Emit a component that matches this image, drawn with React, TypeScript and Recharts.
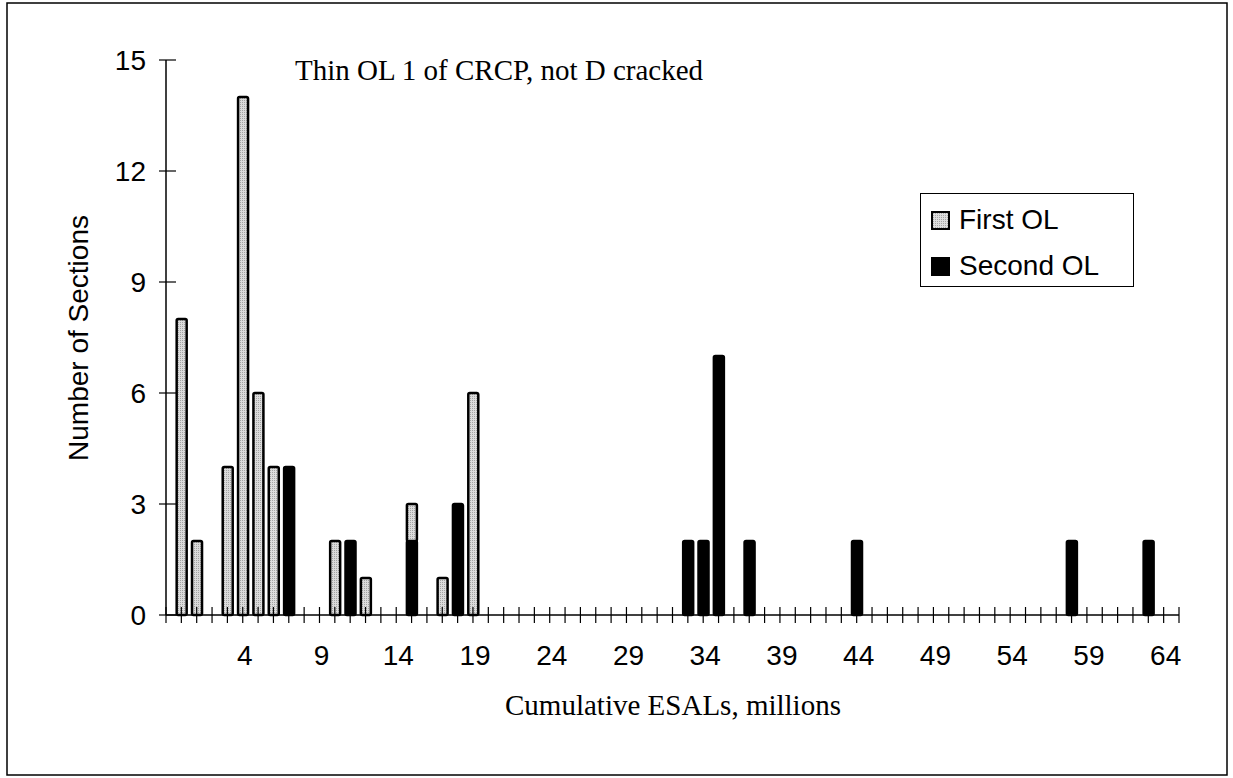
import React from 'react';
import { BarChart, Bar, XAxis, YAxis, Legend } from 'recharts';

// Cumulative ESALs (millions) at which bars occur
const esals = [0, 1, 3, 4, 5, 6, 7, 10, 11, 12, 15, 17, 18, 19, 33, 34, 35, 37, 44, 58, 63];
// Number of sections, First OL
const firstOL = [8, 2, 4, 14, 6, 4, null, 2, null, 1, 1, 1, null, 6, null, null, null, null, null, null, null];
// Number of sections, Second OL
const secondOL = [null, null, null, null, null, null, 4, null, 2, null, 2, null, 3, null, 2, 2, 7, 2, 2, 2, 2];

const xLabelTicks = [4, 9, 14, 19, 24, 29, 34, 39, 44, 49, 54, 59, 64];
const xMinorTicks = Array.from({ length: 67 }, (_, i) => i - 1);
const yTicks = [0, 3, 6, 9, 12, 15];

const seriesNames = { first: 'First OL', second: 'Second OL' };
const legendOrder = ['first', 'second'];

const data = esals.map((x, i) => {
  const row: any = { esal: x };
  if (firstOL[i] != null) row.first = firstOL[i];
  if (secondOL[i] != null) row.second = secondOL[i];
  return row;
});

const SANS = '"Liberation Sans", Arial, sans-serif';
const SERIF = '"Liberation Serif", "Times New Roman", serif';

const XTick = (props: any) => {
  const { x, y, payload } = props;
  const v = payload.value;
  return (
    <g>
      <line x1={x} x2={x} y1={y - 8} y2={y + 8} stroke="#000" strokeWidth={1.2} />
      {xLabelTicks.includes(v) && (
        <text x={x + 2} y={y + 50} textAnchor="middle" fontSize={28} fontFamily={SANS} fill="#000">
          {v}
        </text>
      )}
    </g>
  );
};

const YTick = (props: any) => {
  const { x, y, payload } = props;
  return (
    <g>
      <line x1={x - 7} x2={x + 10} y1={y} y2={y} stroke="#000" strokeWidth={1.2} />
      <text x={x - 20} y={y + 10} textAnchor="end" fontSize={28} fontFamily={SANS} fill="#000">
        {payload.value}
      </text>
    </g>
  );
};

const Swatch = ({ k }: { k: string }) => (
  <svg width={19} height={19} style={{ display: 'block' }}>
    <rect
      x={1}
      y={1}
      width={17}
      height={17}
      fill={k === 'first' ? 'url(#stipple)' : '#000'}
      stroke="#000"
      strokeWidth={2}
    />
  </svg>
);

const LegendBox = (props: any) => {
  const payload = (props.payload || []).slice();
  payload.sort((a: any, b: any) => legendOrder.indexOf(a.dataKey) - legendOrder.indexOf(b.dataKey));
  return (
    <div
      style={{
        position: 'relative',
        width: 214,
        height: 94,
        boxSizing: 'border-box',
        border: '1.5px solid #000',
        background: '#fff',
      }}
    >
      {payload.map((p: any, i: number) => (
        <div
          key={p.dataKey}
          style={{
            position: 'absolute',
            left: 10,
            top: 10 + i * 46,
            height: 32,
            display: 'flex',
            alignItems: 'center',
          }}
        >
          <Swatch k={p.dataKey} />
          <span
            style={{
              marginLeft: 9,
              fontSize: 28,
              lineHeight: '32px',
              fontFamily: SANS,
              color: '#000',
              whiteSpace: 'nowrap',
            }}
          >
            {seriesNames[p.dataKey as 'first' | 'second']}
          </span>
        </div>
      ))}
    </div>
  );
};

export default function App() {
  return (
    <div style={{ position: 'absolute', left: 0, top: 0, width: 1233, height: 778, background: '#fff' }}>
      <BarChart
        width={1233}
        height={778}
        data={data}
        margin={{ top: 60, right: 54, bottom: 63, left: 0 }}
      >
        <defs>
          <pattern id="stipple" width="2" height="2" patternUnits="userSpaceOnUse">
            <rect width="2" height="2" fill="#dcdcdc" />
            <rect width="1" height="1" fill="#a4a4a4" />
          </pattern>
        </defs>
        <XAxis
          dataKey="esal"
          type="number"
          domain={[-1, 65]}
          ticks={xMinorTicks}
          interval={0}
          allowDecimals={false}
          height={100}
          tickSize={0}
          tickMargin={0}
          tickLine={false}
          axisLine={{ stroke: '#000', strokeWidth: 1.5 }}
          tick={<XTick />}
        />
        <YAxis
          type="number"
          domain={[0, 15]}
          ticks={yTicks}
          interval={0}
          width={166}
          tickSize={0}
          tickMargin={0}
          tickLine={false}
          axisLine={{ stroke: '#000', strokeWidth: 1.5 }}
          tick={<YTick />}
        />
        <Legend
          layout="vertical"
          align="center"
          verticalAlign="middle"
          content={<LegendBox />}
          wrapperStyle={{ left: 920, top: 193, width: 214, height: 94 }}
        />
        <Bar
          dataKey="second"
          name={seriesNames.second}
          stackId="a"
          fill="#000"
          stroke="#000"
          strokeWidth={2.5}
          barSize={10}
          radius={1.5}
          isAnimationActive={false}
        />
        <Bar
          dataKey="first"
          name={seriesNames.first}
          stackId="a"
          fill="url(#stipple)"
          stroke="#000"
          strokeWidth={2.5}
          barSize={10}
          radius={1.5}
          isAnimationActive={false}
        />
      </BarChart>
      <svg
        width={1233}
        height={778}
        style={{ position: 'absolute', left: 0, top: 0, pointerEvents: 'none' }}
      >
        <rect x={7} y={3} width={1220} height={772} fill="none" stroke="#000" strokeWidth={1.5} />
        <text x={295} y={80} fontSize={29} fontFamily={SERIF} fill="#000">
          Thin OL 1 of CRCP, not D cracked
        </text>
        <text x={673} y={715} textAnchor="middle" fontSize={29} fontFamily={SERIF} fill="#000">
          Cumulative ESALs, millions
        </text>
        <text
          transform="translate(88,338) rotate(-90)"
          textAnchor="middle"
          fontSize={28}
          fontFamily={SANS}
          fill="#000"
        >
          Number of Sections
        </text>
      </svg>
    </div>
  );
}
